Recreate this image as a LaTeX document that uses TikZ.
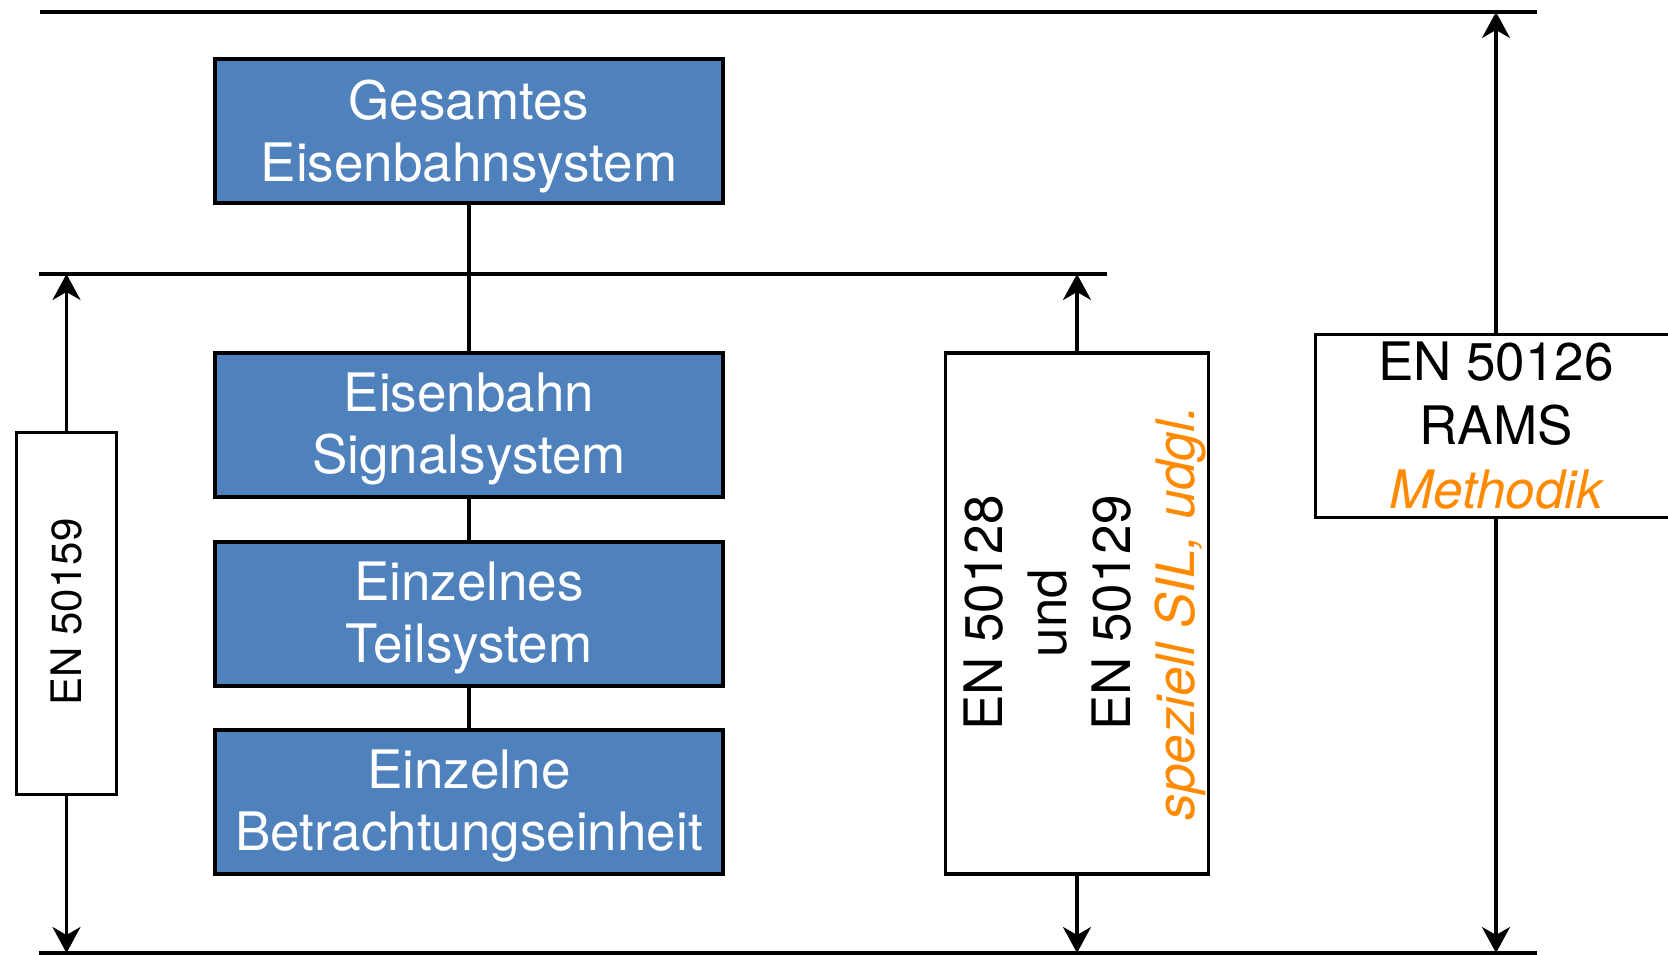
\documentclass[tikz,border=0pt]{standalone}
\usepackage{fontspec}
\setmainfont{TeX Gyre Heros}
\usetikzlibrary{arrows.meta}
\definecolor{boxblue}{RGB}{79,129,189}
\definecolor{normorange}{RGB}{255,138,0}
\begin{document}
\begin{tikzpicture}[x=1pt,y=-1pt,
  hline/.style={line width=4.6pt},
  bluebox/.style={draw=black, fill=boxblue, line width=4pt, minimum width=508pt, minimum height=144pt, inner sep=0pt},
  bluetext/.style={text=white, align=center, inner sep=0pt, font=\fontsize{53}{62}\selectfont},
  normbox/.style={draw=black, fill=white, line width=3.6pt, inner sep=0pt},
  normtext/.style={align=center, inner sep=0pt, font=\fontsize{53}{64}\selectfont},
  smalltext/.style={inner sep=0pt, font=\fontsize{42}{50}\selectfont},
  conn/.style={line width=3.4pt},
  arr/.style={line width=3.1pt, -{Stealth[length=26pt,width=28pt,inset=8pt]}},
]
\useasboundingbox (0,0) rectangle (1668,955);

% horizontal reference lines
\coordinate (topL) at (40,12);
\coordinate (topR) at (1537,12);
\coordinate (midL) at (39,274);
\coordinate (midR) at (1107,274);
\coordinate (botL) at (39,953);
\coordinate (botR) at (1537,953);
\draw[hline] (topL) -- (topR);
\draw[hline] (midL) -- (midR);
\draw[hline] (botL) -- (botR);

% blue hierarchy boxes
\node[bluebox] (gesamt) at (469,131) {};
\node[bluebox] (signal) at (469,424.5) {};
\node[bluebox] (teil) at (469,613.8) {};
\node[bluebox] (betr) at (469,802.1) {};
\node[bluetext] (gesamtT) at (469,136) {Gesamtes\\Eisenbahnsystem};
\node[bluetext] (signalT) at (469,428.5) {Eisenbahn\\Signalsystem};
\node[bluetext] (teilT) at (469,617.5) {Einzelnes\\Teilsystem};
\node[bluetext] (betrT) at (469,806) {Einzelne\\Betrachtungseinheit};

\draw[conn] (gesamt.south) -- (signal.north);
\draw[conn] (signal.south) -- (teil.north);
\draw[conn] (teil.south) -- (betr.north);

% EN 50159
\node[normbox, minimum width=100pt, minimum height=362pt] (en159) at (66.5,613.5) {};
\node[smalltext, rotate=90] (en159T) at (67,612) {EN 50159};
\draw[arr] (en159.north) -- (en159.north |- midL);
\draw[arr] (en159.south) -- (en159.south |- botL);

% EN 50128 / 50129
\node[normbox, minimum width=263pt, minimum height=521pt] (en128) at (1077,613.25) {};
\node[normtext, rotate=90] (en128T) at (1085,613) {EN 50128\\und\\EN 50129\\\textcolor{normorange}{\itshape speziell SIL, udgl.}};
\draw[arr] (en128.north) -- (en128.north |- midL);
\draw[arr] (en128.south) -- (en128.south |- botL);

% EN 50126
\begin{scope}
\clip (0,0) rectangle (1668,955);
\node[normbox, minimum width=384.5pt, minimum height=183pt] (en126) at (1507.75,426) {};
\end{scope}
\node[normtext] (en126T) at (1496,426) {EN 50126\\RAMS\\\textcolor{normorange}{\itshape Methodik}};
\draw[arr] (en126.north -| en126T.center) -- (en126T.center |- topL);
\draw[arr] (en126.south -| en126T.center) -- (en126T.center |- botL);
\end{tikzpicture}
\end{document}
